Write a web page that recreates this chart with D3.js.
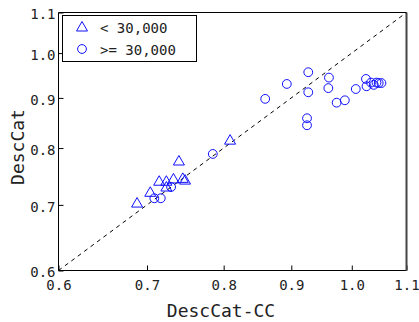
<!DOCTYPE html>
<html><head><meta charset="utf-8">
<script src="https://cdn.jsdelivr.net/npm/d3@7"></script>
<style>
html,body{margin:0;padding:0;background:#fff;}
svg{display:block;}
text{font-family:"DejaVu Sans Mono",monospace;fill:#222;}
</style></head>
<body>
<svg id="chart" width="419" height="322"></svg>
<script>
// Data (DescCat-CC, DescCat)
const smallX = [0.688, 0.704, 0.715, 0.724, 0.733, 0.724, 0.745, 0.748, 0.740, 0.809];
const smallY = [0.703, 0.721, 0.740, 0.740, 0.744, 0.730, 0.745, 0.742, 0.776, 0.815];
const largeX = [0.709, 0.717, 0.730, 0.785, 0.860, 0.893, 0.927, 0.927, 0.925, 0.925, 0.961, 0.960,
                0.974, 0.988, 1.007, 1.025, 1.026, 1.034, 1.039, 1.044, 1.048, 1.053];
const largeY = [0.711, 0.711, 0.730, 0.789, 0.898, 0.930, 0.956, 0.912, 0.858, 0.844, 0.944, 0.921,
                0.890, 0.895, 0.919, 0.941, 0.925, 0.933, 0.928, 0.933, 0.932, 0.932];
const tickValues = [0.6, 0.7, 0.8, 0.9, 1.0, 1.1];
const tickLabels = ["0.6", "0.7", "0.8", "0.9", "1.0", "1.1"];
const legendLabels = ["< 30,000", ">= 30,000"];
const xTitle = "DescCat-CC";
const yTitle = "DescCat";

const svg = d3.select("#chart");
const L = 58.5, R = 406.5, T = 12.5, B = 270.5;
const x = d3.scaleLog().domain([0.6, 1.1]).range([L, R]);
const y = d3.scaleLog().domain([0.6, 1.1]).range([B, T]);
const blue = "#0f0fff";

// diagonal
svg.append("line")
  .attr("x1", x(0.6)).attr("y1", y(0.6)).attr("x2", x(1.1)).attr("y2", y(1.1))
  .attr("stroke", "#000").attr("stroke-width", 1).attr("stroke-dasharray", "4,4");

// axes
const fmt = (d) => tickLabels[tickValues.indexOf(d)];
const xAxis = svg.append("g").attr("transform", `translate(0,${B})`)
  .call(d3.axisBottom(x).tickValues(tickValues).tickFormat(fmt).tickSizeInner(-5).tickSizeOuter(0).tickPadding(12));
const yAxis = svg.append("g").attr("transform", `translate(${L},0)`)
  .call(d3.axisLeft(y).tickValues(tickValues).tickFormat(fmt).tickSizeInner(-5).tickSizeOuter(0).tickPadding(3));
[xAxis, yAxis].forEach(g => {
  g.select(".domain").remove();
  g.selectAll("text").attr("font-size", 14).attr("font-family", "DejaVu Sans Mono").attr("fill", "#333");
  g.selectAll("line").attr("stroke", "#000");
});
yAxis.selectAll("text").attr("dy", "0.45em");
xAxis.selectAll("text").attr("dy", "0.5em");

// box
svg.append("line").attr("x1", L).attr("x2", R).attr("y1", T).attr("y2", T).attr("stroke", "#000");
svg.append("line").attr("x1", L).attr("x2", R).attr("y1", B).attr("y2", B).attr("stroke", "#000");
svg.append("line").attr("x1", L).attr("x2", L).attr("y1", T).attr("y2", B).attr("stroke", "#000");
svg.append("line").attr("x1", R).attr("x2", R).attr("y1", T).attr("y2", B).attr("stroke", "#444").attr("stroke-width", 2);

// markers
const triPath = "M0,-5.5L5.5,4L-5.5,4Z";
svg.append("g").selectAll("path").data(smallX.map((v, i) => [v, smallY[i]])).join("path")
  .attr("d", triPath)
  .attr("transform", d => `translate(${x(d[0])},${y(d[1])})`)
  .attr("fill", "none").attr("stroke", blue).attr("stroke-width", 1);
svg.append("g").selectAll("circle").data(largeX.map((v, i) => [v, largeY[i]])).join("circle")
  .attr("cx", d => x(d[0])).attr("cy", d => y(d[1])).attr("r", 4.4)
  .attr("fill", "none").attr("stroke", blue).attr("stroke-width", 1);

// titles
svg.append("text").attr("x", 221).attr("y", 317).attr("text-anchor", "middle")
  .attr("font-size", 18).attr("fill", "#333").text(xTitle);
svg.append("text").attr("transform", `translate(24,147) rotate(-90)`).attr("text-anchor", "middle")
  .attr("font-size", 18).attr("fill", "#333").text(yTitle);

// legend
const lg = svg.append("g");
lg.append("rect").attr("x", 62.5).attr("y", 15.5).attr("width", 134).attr("height", 46)
  .attr("fill", "#fff").attr("stroke", "#000").attr("stroke-width", 1);
lg.append("path").attr("d", triPath).attr("transform", "translate(82,27)")
  .attr("fill", "none").attr("stroke", blue);
lg.append("circle").attr("cx", 82).attr("cy", 49).attr("r", 4.4)
  .attr("fill", "none").attr("stroke", blue);
lg.append("text").attr("x", 100).attr("y", 33).attr("font-size", 14).attr("fill", "#333").text(legendLabels[0]);
lg.append("text").attr("x", 100).attr("y", 55).attr("font-size", 14).attr("fill", "#333").text(legendLabels[1]);
</script>
</body></html>
